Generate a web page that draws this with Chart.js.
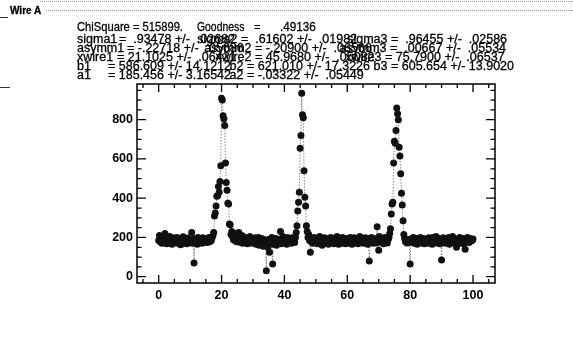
<!DOCTYPE html>
<html>
<head>
<meta charset="utf-8">
<script src="https://cdn.jsdelivr.net/npm/chart.js@4.4.0/dist/chart.umd.min.js"></script>
<style>
html, body { margin: 0; padding: 0; background: #fff; }
#wrap { position: relative; width: 573px; height: 338px; overflow: hidden;
        font-family: "Liberation Sans", Arial, sans-serif; color: #000; }
#wrap canvas { position: absolute; left: 0; top: 0; }
.t { position: absolute; white-space: pre; transform-origin: 0 0; -webkit-text-stroke: 0.3px #000; }
.dots { position: absolute; border-top: 1px dotted #999; height: 0; }
.dash { position: absolute; height: 1px; background: #333; }
</style>
</head>
<body>
<div id="wrap">
  <canvas id="wireChart" width="573" height="338"></canvas>
</div>
<script>
// scan step along the wire and the counts
const scanStep = 0.25;
const counts = [
    185, 210, 178, 192, 170, 200, 188, 175, 220, 182, 168, 195, 186, 172, 205, 180, 190, 165, 198, 183,
    176, 192, 185, 200, 170, 188, 181, 195, 163, 190, 178, 204, 185, 172, 193, 180, 168, 197, 184, 175,
    190, 182, 225, 171, 186, 70, 195, 178, 188, 166, 200, 183, 175, 192, 180, 170, 198, 187, 176, 190,
    182, 195, 174, 188, 200, 178, 192, 185, 200, 210, 225, 310, 325, 360, 410, 412, 460, 430, 485, 565,
    910, 900, 820, 805, 770, 580, 480, 440, 375, 370, 268, 265, 215, 230, 205, 190, 215, 185, 200, 178,
    222, 188, 225, 176, 195, 182, 210, 170, 190, 185, 200, 175, 188, 168, 195, 180, 205, 172, 186, 178,
    192, 170, 185, 198, 165, 188, 176, 200, 160, 183, 172, 195, 178, 155, 190, 168, 185, 30, 175, 150,
    190, 125, 170, 185, 200, 65, 165, 188, 178, 195, 160, 182, 172, 190, 176, 230, 168, 185, 205, 172,
    188, 178, 195, 165, 200, 182, 174, 190, 185, 170, 198, 180, 192, 175, 200, 225, 260, 335, 380, 430,
    655, 720, 935, 825, 810, 540, 405, 360, 260, 230, 200, 215, 185, 125, 178, 192, 170, 188, 200, 175,
    183, 195, 168, 190, 178, 205, 172, 186, 160, 192, 180, 198, 170, 185, 176, 193, 165, 188, 182, 200,
    175, 190, 183, 168, 196, 180, 172, 205, 185, 165, 192, 178, 188, 170, 200, 182, 175, 193, 168, 186,
    195, 178, 186, 170, 200, 182, 165, 190, 176, 198, 184, 172, 192, 180, 168, 188, 205, 175, 185, 178,
    190, 170, 185, 198, 175, 182, 165, 195, 80, 188, 176, 200, 183, 170, 192, 178, 185, 172, 255, 198,
    135, 205, 182, 190, 175, 195, 168, 185, 200, 178, 188, 172, 190, 200, 220, 245, 320, 370, 380, 580,
    690, 680, 745, 860, 830, 800, 660, 615, 525, 425, 365, 285, 215, 195, 180, 190, 172, 185, 188, 178,
    65, 192, 176, 185, 200, 170, 188, 182, 195, 165, 190, 178, 185, 200, 172, 188, 180, 195, 168, 186,
    178, 192, 183, 170, 198, 185, 175, 190, 165, 200, 182, 176, 188, 205, 172, 185, 195, 180, 168, 190,
    85, 182, 198, 175, 188, 170, 195, 184, 178, 200, 165, 190, 183, 176, 205, 185, 172, 192, 180, 150,
    178, 190, 185, 200, 172, 188, 183, 195, 168, 192, 140, 185, 178, 200, 188, 175, 195, 182, 190, 185,
    192
];
const positions = counts.map((c, i) => i * scanStep);

const xTicks = [0, 20, 40, 60, 80, 100];
const yTicks = [0, 200, 400, 600, 800];

// fit summary printed above the plot: [name, value part] per wire
const fitRows = [
    [['sigma1', '=  .93478 +/-  .02682'], ['sigma2', '=  .61602 +/-  .01982'], ['sigma3', '=  .96455 +/-  .02586']],
    [['asymm1', '= -.22718 +/-  .05686'], ['asymm2', '= -.20900 +/-  .06566'], ['asymm3', '=  .00667 +/-  .05534']],
    [['xwire1', '= 21.1025 +/-  .06421'], ['xwire2', '= 45.9680 +/-  .05082'], ['xwire3', '= 75.7900 +/-  .06537']],
    [['b1', '= 586.609 +/- 14.1212'], ['b2', '= 621.010 +/- 17.3226'], ['b3', '= 605.654 +/- 13.9020']],
    [['a1', '= 185.456 +/- 3.16542'], ['a2', '= -.03322 +/-  .05449']]
];
const eqLeft = [
    [119, 241, 391],
    [127, 255, 390],
    [117, 255, 385],
    [108, 247, 391],
    [108, 247]
];

const wrap = document.getElementById('wrap');

function addText(str, x, baseline, size, weight, sx, alignRight) {
    const d = document.createElement('div');
    d.className = 't';
    d.textContent = str;
    if (alignRight) {
        d.style.right = (573 - x) + 'px';
        d.style.transformOrigin = '100% 0';
    } else {
        d.style.left = x + 'px';
    }
    d.style.fontSize = size + 'px';
    d.style.lineHeight = size + 'px';
    d.style.top = (baseline - 0.8465 * size) + 'px';
    if (weight) d.style.fontWeight = weight;
    if (sx) d.style.transform = 'scaleX(' + sx + ')';
    wrap.appendChild(d);
}

function addLine(cls, x, y, w) {
    const d = document.createElement('div');
    d.className = cls;
    d.style.left = x + 'px';
    d.style.top = y + 'px';
    d.style.width = w + 'px';
    wrap.appendChild(d);
}

addLine('dots', 40, 1, 533);
addLine('dots', 46, 10, 527);
addLine('dash', 0, 17, 8);
addLine('dash', 0, 87, 10);
addText('Wire A', 10, 14.5, 10, 'bold');
addText('ChiSquare = 515899.', 77, 31, 13, null, 0.86);
addText('Goodness', 197, 31, 13, null, 0.8);
addText('=', 254, 31, 13, null, 0.86);
addText('.49136', 280, 31, 13, null, 0.9);

const rowBase = [44, 53, 62, 71, 80];
fitRows.forEach((row, r) => {
    row.forEach((cell, c) => {
        const eq = eqLeft[r][c];
        if (c === 0) addText(cell[0], 77, rowBase[r], 12.5);
        else addText(cell[0], eq - 3.5, rowBase[r], 12.5, null, null, true);
        addText(cell[1], eq, rowBase[r], 12.5);
    });
});

// box round the plot with inward major and minor ticks on all four sides
const frameTicks = {
    id: 'frameTicks',
    afterDatasetsDraw(chart) {
        const { ctx, chartArea: a, scales: { x, y } } = chart;
        ctx.save();
        ctx.strokeStyle = '#000';
        ctx.lineWidth = 1.5;
        ctx.strokeRect(a.left, a.top, a.right - a.left, a.bottom - a.top);
        ctx.lineWidth = 1.3;
        ctx.beginPath();
        for (let v = -5; v <= 105; v += 5) {
            const px = x.getPixelForValue(v);
            const len = v % 20 === 0 ? 8 : 4;
            ctx.moveTo(px, a.bottom); ctx.lineTo(px, a.bottom - len);
            ctx.moveTo(px, a.top); ctx.lineTo(px, a.top + len);
        }
        for (let v = 0; v <= 950; v += 50) {
            const py = y.getPixelForValue(v);
            const len = v % 200 === 0 ? 9 : 4.5;
            ctx.moveTo(a.left, py); ctx.lineTo(a.left + len, py);
            ctx.moveTo(a.right, py); ctx.lineTo(a.right - len, py);
        }
        ctx.stroke();
        ctx.restore();
    }
};

const ctx = document.getElementById('wireChart').getContext('2d');
new Chart(ctx, {
    type: 'line',
    data: {
        datasets: [{
            data: positions.map((p, i) => ({ x: p, y: counts[i] })),
            borderColor: '#666',
            borderWidth: 0.8,
            borderDash: [1.5, 1.5],
            pointRadius: 3.5,
            pointBackgroundColor: '#111',
            pointBorderWidth: 0,
            tension: 0
        }]
    },
    options: {
        responsive: false,
        animation: false,
        layout: { padding: { left: 97, right: 78, top: 84, bottom: 35 } },
        plugins: { legend: { display: false }, tooltip: { enabled: false } },
        scales: {
            x: {
                type: 'linear',
                min: -6.9,
                max: 107,
                afterBuildTicks: s => { s.ticks = xTicks.map(v => ({ value: v })); },
                afterFit: s => { s.height = 20; },
                grid: { display: false, drawTicks: false },
                border: { display: false },
                ticks: { color: '#000', padding: 5, maxRotation: 0,
                         font: { family: 'Liberation Sans', size: 12.5, weight: 'bold' } }
            },
            y: {
                type: 'linear',
                min: -32,
                max: 982,
                afterBuildTicks: s => { s.ticks = yTicks.map(v => ({ value: v })); },
                afterFit: s => { s.width = 40; },
                grid: { display: false, drawTicks: false },
                border: { display: false },
                ticks: { color: '#000', padding: 4,
                         font: { family: 'Liberation Sans', size: 12.5, weight: 'bold' } }
            }
        }
    },
    plugins: [frameTicks]
});
</script>
</body>
</html>
